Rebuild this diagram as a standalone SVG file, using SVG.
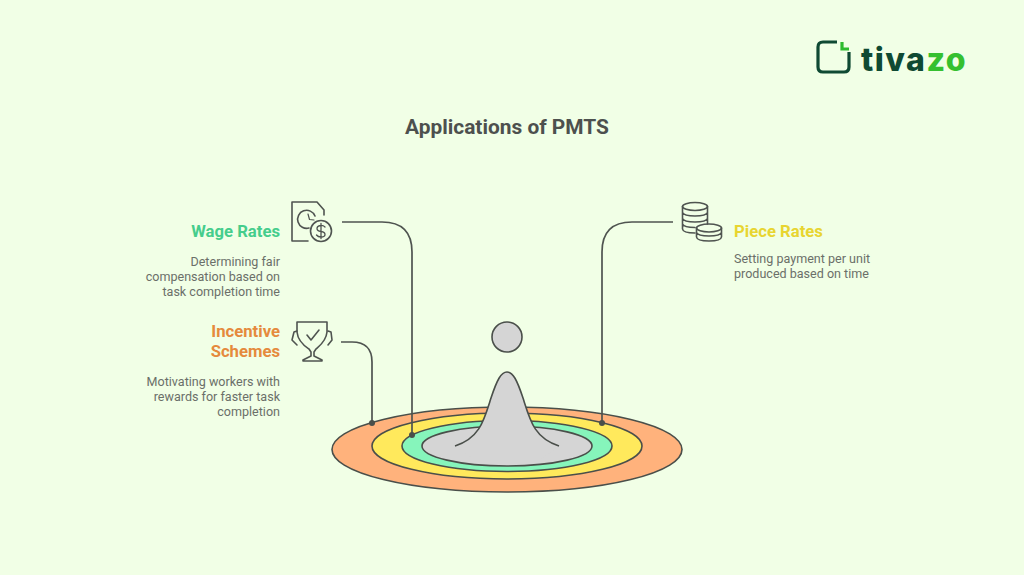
<svg xmlns="http://www.w3.org/2000/svg" width="1024" height="575" viewBox="0 0 1024 575">
<style>
text{font-family:Roboto,"Liberation Sans",sans-serif}
.h{font-size:16.700px;font-weight:700}
.d{font-size:12.550px;fill:#6b6f69}
.e{text-anchor:end}
.i{fill:none;stroke:#4f5450;stroke-width:1.600;stroke-linecap:round;stroke-linejoin:round}
.o{stroke:#4a4f4a;stroke-width:1.600}
.c{fill:none;stroke:#4f5450;stroke-width:1.700}
.dot{fill:#4a4f4a}
</style>
<rect width="1024" height="575" fill="#f1ffe6"/>
<text id="title" x="507" y="134" text-anchor="middle" font-size="20.900" font-weight="700" fill="#4d504e">Applications of PMTS</text>
<g id="logo">
<path d="M837 42H823Q818 42 818 47V67Q818 72 823 72H844Q849 72 849 67V52" fill="none" stroke="#0f4a33" stroke-width="3.200"/>
<path d="M842 42V49H849" fill="none" stroke="#2fbb2f" stroke-width="3.200"/>
<text x="861" y="70.500" font-size="32" font-weight="800" fill="#0f4a33" style="font-family:Inter,Roboto,sans-serif;letter-spacing:1.500px">tiva<tspan fill="#35c02f">zo</tspan></text>
</g>
<g id="rings">
<ellipse cx="507" cy="449.500" rx="175" ry="42.500" fill="#ffb27c" class="o"/>
<ellipse cx="507" cy="446" rx="135" ry="33" fill="#ffe95c" class="o"/>
<ellipse cx="507" cy="446" rx="105" ry="25.500" fill="#86f5bb" class="o"/>
<ellipse cx="507" cy="446" rx="85" ry="20" fill="#d5d5d5" class="o"/>
</g>
<g id="figure">
<circle cx="507" cy="337" r="15" fill="#d5d5d5" class="o"/>
<path d="M455 446C480 438 484 420 491 398C497 380 501 372 507 372C513 372 517 380 523 398C530 420 534 438 559 446L540 460H475Z" fill="#d5d5d5"/>
<path d="M455 446C480 438 484 420 491 398C497 380 501 372 507 372C513 372 517 380 523 398C530 420 534 438 559 446" fill="none" class="o"/>
</g>
<g id="connectors">
<path class="c" d="M342 222H382Q412 222 412 252V435"/>
<path class="c" d="M341 342H352Q372 342 372 362V423"/>
<path class="c" d="M673 222H632Q602 222 602 252V423"/>
<circle class="dot" cx="412" cy="435" r="3"/>
<circle class="dot" cx="372" cy="423" r="3"/>
<circle class="dot" cx="602" cy="423" r="3"/>
</g>
<g id="wage-rates">
<text class="h e" x="280" y="237" fill="#45cd8c">Wage Rates</text>
<text class="d e" x="280" y="266">Determining fair</text>
<text class="d e" x="280" y="281">compensation based on</text>
<text class="d e" x="280" y="296">task completion time</text>
<path class="i" d="M324 215V210L317 202H292V241H308"/>
<path class="i" d="M315 216A9 9 0 1 0 309 228"/>
<path class="i" d="M308 214L309.500 219.500L314 220" style="stroke-width:1.200"/>
<circle class="i" cx="321" cy="231" r="10.500"/>
<path class="i" d="M325 227Q323 225 320.500 225.500Q317 226 317 228.500Q317 231 321 231.500Q325 232 325 234.500Q325 237 321 237Q318 237 316.500 235M321 223.500V238.500" style="stroke-width:1.300"/>
</g>
<g id="incentive-schemes">
<text class="h e" x="280" y="337" fill="#e58a3c">Incentive</text>
<text class="h e" x="280" y="357" fill="#e58a3c">Schemes</text>
<text class="d e" x="280" y="386">Motivating workers with</text>
<text class="d e" x="280" y="401">rewards for faster task</text>
<text class="d e" x="280" y="416">completion</text>
<path class="i" d="M297 322H327L327 332C326 342 318 347 316 349L314 352V356L322 360V361H303V360L311 356V352L309 349C306 347 298 342 297 332Z"/>
<path class="i" d="M297 331L294 332L292 340L297 345M328 331L331 332L332 340L328 345"/>
<path class="i" d="M307 335L311 340L319 330"/>
</g>
<g id="piece-rates">
<text class="h" x="734" y="237" fill="#e8d530">Piece Rates</text>
<text class="d" x="734" y="263">Setting payment per unit</text>
<text class="d" x="734" y="278">produced based on time</text>
<g class="i">
<ellipse cx="695" cy="206.500" rx="12.500" ry="4"/>
<path d="M682.500 206.500V229Q683 233 695 233M707.500 206.500V224M682.500 212.500Q684 216 695 216Q706 216 707.500 212.500M682.500 218.500Q684 222 695 222Q706 222 707.500 218.500M682.500 224Q684 227.500 695 227.500"/>
<ellipse cx="709" cy="228" rx="12.500" ry="4"/>
<path d="M696.500 228V237Q697 241 709 241Q721 241 721.500 237V228M696.500 232.500Q698 236 709 236Q720 236 721.500 232.500"/>
</g>
</g>
</svg>
